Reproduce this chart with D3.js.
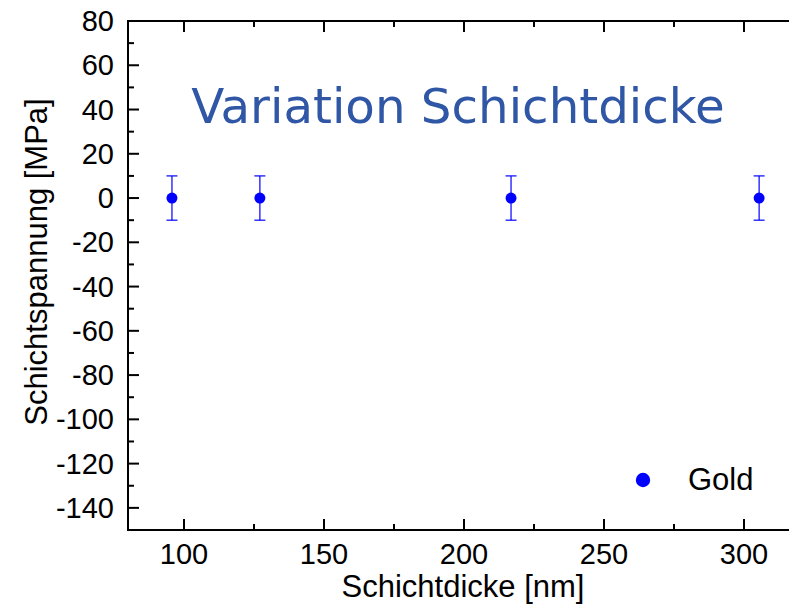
<!DOCTYPE html>
<html>
<head>
<meta charset="utf-8">
<script src="https://cdn.jsdelivr.net/npm/d3@7"></script>
<style>
  html, body { margin: 0; padding: 0; background: #fff; }
  svg { display: block; }
</style>
</head>
<body>
<svg id="chart" width="789" height="606"></svg>
<script>
// Layer thickness samples (nm) with measured film stress (MPa) and its uncertainty
const thickness = [95.7, 127.1, 216.8, 305.4];
const stress = [0, 0, 0, 0];
const stressErr = [10, 10, 10, 10];
const seriesName = "Gold";

const xTicks = [100, 150, 200, 250, 300];
const yTicks = [80, 60, 40, 20, 0, -20, -40, -60, -80, -100, -120, -140];

const title = "Variation Schichtdicke";
const xTitle = "Schichtdicke [nm]";
const yTitle = "Schichtspannung [MPa]";

const plotL = 128, plotR = 800, plotT = 21, plotB = 530;

const svg = d3.select("#chart");
const x = d3.scaleLinear().domain([80, 320]).range([plotL, plotR]);
const y = d3.scaleLinear().domain([-150, 80]).range([plotB, plotT]);

const font = "'Liberation Sans', Arial, sans-serif";
const tickFont = 29;
const labelFont = 31;

// Frame
const frame = svg.append("g").attr("stroke", "#000").attr("stroke-width", 2).attr("fill", "none");
frame.append("line").attr("x1", plotL).attr("x2", plotR + 2).attr("y1", plotT).attr("y2", plotT);
frame.append("line").attr("x1", plotL).attr("x2", plotR + 2).attr("y1", plotB).attr("y2", plotB);
frame.append("line").attr("x1", plotL).attr("x2", plotL).attr("y1", plotT - 1).attr("y2", plotB + 1);

// Ticks (inward) on bottom and top axes
const xMinor = d3.range(100, 320, 25).filter(v => v % 50 !== 0);
const tickG = svg.append("g").attr("stroke", "#000").attr("stroke-width", 2);
xTicks.forEach(v => {
  tickG.append("line").attr("x1", x(v)).attr("x2", x(v)).attr("y1", plotB).attr("y2", plotB - 11);
  tickG.append("line").attr("x1", x(v)).attr("x2", x(v)).attr("y1", plotT).attr("y2", plotT + 11);
});
xMinor.forEach(v => {
  tickG.append("line").attr("x1", x(v)).attr("x2", x(v)).attr("y1", plotB).attr("y2", plotB - 6);
  tickG.append("line").attr("x1", x(v)).attr("x2", x(v)).attr("y1", plotT).attr("y2", plotT + 6);
});
const yMinor = d3.range(-150, 80, 10).filter(v => v % 20 !== 0);
yTicks.forEach(v => {
  tickG.append("line").attr("x1", plotL).attr("x2", plotL + 11).attr("y1", y(v)).attr("y2", y(v));
});
yMinor.forEach(v => {
  tickG.append("line").attr("x1", plotL).attr("x2", plotL + 6).attr("y1", y(v)).attr("y2", y(v));
});

// Tick labels
svg.append("g").selectAll("text").data(xTicks).join("text")
  .attr("x", d => x(d)).attr("y", 564)
  .attr("text-anchor", "middle")
  .attr("font-family", font).attr("font-size", tickFont).attr("fill", "#000")
  .text(d => d);

svg.append("g").selectAll("text").data(yTicks).join("text")
  .attr("x", 114).attr("y", d => y(d))
  .attr("dy", "0.35em")
  .attr("text-anchor", "end")
  .attr("font-family", font).attr("font-size", tickFont).attr("fill", "#000")
  .text(d => d);

// Axis titles
svg.append("text")
  .attr("x", 463).attr("y", 597)
  .attr("text-anchor", "middle")
  .attr("font-family", font).attr("font-size", labelFont).attr("fill", "#000")
  .text(xTitle);

svg.append("text")
  .attr("transform", "translate(47,262) rotate(-90)")
  .attr("text-anchor", "middle")
  .attr("font-family", font).attr("font-size", labelFont).attr("fill", "#000")
  .text(yTitle);

// Chart title
svg.append("text")
  .attr("x", 458).attr("y", 123)
  .attr("text-anchor", "middle")
  .attr("font-family", "'DejaVu Sans', Verdana, sans-serif").attr("font-size", 48.3)
  .attr("fill", "#3056a6")
  .text(title);

// Data: error bars and points
const pts = thickness.map((t, i) => ({ t, s: stress[i], e: stressErr[i] }));
const blue = "#0000ff";
const eb = svg.append("g").attr("stroke", blue).attr("stroke-width", 1.2);
pts.forEach(p => {
  const cx = x(p.t);
  eb.append("line").attr("x1", cx).attr("x2", cx).attr("y1", y(p.s + p.e)).attr("y2", y(p.s - p.e));
  eb.append("line").attr("x1", cx - 5.5).attr("x2", cx + 5.5).attr("y1", y(p.s + p.e)).attr("y2", y(p.s + p.e));
  eb.append("line").attr("x1", cx - 5.5).attr("x2", cx + 5.5).attr("y1", y(p.s - p.e)).attr("y2", y(p.s - p.e));
});
svg.append("g").selectAll("circle").data(pts).join("circle")
  .attr("cx", d => x(d.t)).attr("cy", d => y(d.s)).attr("r", 5.5)
  .attr("fill", blue);

// Legend
svg.append("circle").attr("cx", 643).attr("cy", 480).attr("r", 7.2).attr("fill", blue);
svg.append("text")
  .attr("x", 688).attr("y", 490)
  .attr("font-family", font).attr("font-size", labelFont).attr("fill", "#000")
  .text(seriesName);
</script>
</body>
</html>
